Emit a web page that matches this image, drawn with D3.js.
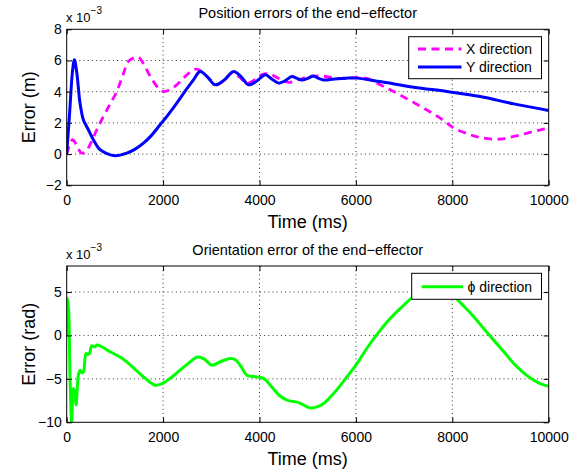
<!DOCTYPE html>
<html>
<head>
<meta charset="utf-8">
<script src="https://cdn.jsdelivr.net/npm/d3@7"></script>
<style>
  html, body { margin: 0; padding: 0; background: #fff; }
  svg { display: block; font-family: "Liberation Sans", Arial, Helvetica, sans-serif; }
</style>
</head>
<body>
<svg id="chart" width="580" height="472"></svg>
<script>
// ---- data -------------------------------------------------------------
const xTicks = [0, 2000, 4000, 6000, 8000, 10000];
const posTicks = [-2, 0, 2, 4, 6, 8];
const oriTicks = [-10, -5, 0, 5];

// position error, X direction (x 10^-3 m)
const timeX = [0, 50, 125, 200, 311, 400, 484, 600, 761, 900, 1038, 1160, 1280, 1380, 1488, 1590, 1696, 1800, 1903, 2007,
  2150, 2284, 2400, 2492, 2600, 2700, 2800, 2907, 3000, 3115, 3270, 3427, 3580, 3738, 3900, 4050, 4200, 4400, 4600, 4800,
  5000, 5300, 5600, 6000, 6230, 6500, 6714, 7000, 7345, 7600, 7822, 8030, 8250, 8445, 8650, 8860, 9050, 9275, 9500, 9690, 9850, 10000];
const errX = [0, 0.5, 0.92, 0.6, 0.06, 0.2, 0.6, 1.4, 2.41, 3.2, 4.01, 5.0, 5.94, 6.15, 6.22, 5.8, 5.19, 4.65, 4.23, 4.01,
  4.15, 4.44, 4.8, 5.08, 5.35, 5.45, 5.3, 4.97, 4.7, 4.44, 4.75, 5.19, 4.95, 4.55, 4.75, 5.1, 5.15, 4.85, 4.6, 4.75,
  4.95, 5.0, 4.85, 4.9, 4.85, 4.45, 4.12, 3.65, 3.05, 2.6, 2.15, 1.67, 1.38, 1.17, 1.03, 0.96, 0.98, 1.13, 1.3, 1.45, 1.57, 1.67];

// position error, Y direction (x 10^-3 m)
const timeY = [0, 60, 120, 160, 210, 276, 345, 400, 449, 553, 692, 850, 1003, 1246, 1420, 1592, 1760, 1938, 2110, 2284,
  2460, 2630, 2768, 2920, 3080, 3270, 3461, 3620, 3773, 3950, 4120, 4260, 4400, 4530, 4670, 4780, 4880, 5000, 5120, 5230,
  5330, 5500, 5800, 6020, 6500, 7200, 7890, 8580, 9275, 10000];
const errY = [0, 2.6, 5.3, 6.05, 5.2, 3.27, 2.2, 1.85, 1.56, 0.92, 0.28, 0.02, -0.11, 0.06, 0.32, 0.7, 1.2, 1.88, 2.55, 3.27,
  4.05, 4.76, 5.3, 4.95, 4.44, 4.75, 5.3, 4.95, 4.44, 4.7, 5.08, 4.8, 4.55, 4.7, 4.97, 4.85, 4.75, 4.85, 5.0, 4.85,
  4.75, 4.8, 4.87, 4.87, 4.65, 4.29, 4.01, 3.69, 3.22, 2.8];

// orientation error, phi direction (x 10^-3 rad)
const timePhi = [0, 15, 40, 70, 104, 138, 165, 194, 220, 242, 277, 310, 346, 401, 440, 470, 519, 580, 630, 727,
  900, 1080, 1246, 1420, 1592, 1720, 1834, 1980, 2145, 2350, 2561, 2700, 2850, 3011, 3200, 3392, 3500, 3620, 3738, 3946,
  4100, 4250, 4431, 4600, 4800, 5053, 5200, 5330, 5537, 5780, 6022, 6250, 6507, 6720, 6922, 7199, 7450, 7650, 7850, 8030,
  8250, 8445, 8650, 8860, 9075, 9275, 9480, 9690, 9850, 10000];
const errPhi = [0, 4.3, 3.0, -5, -9.95, -6.1, -6.5, -8.0, -6.0, -4.57, -4.0, -4.3, -4.2, -2.07, -2.2, -2.1, -1.2, -1.3, -1.1, -1.3,
  -1.88, -2.4, -3.04, -3.9, -4.77, -5.35, -5.73, -5.55, -4.96, -4.0, -3.04, -2.5, -2.7, -3.42, -3.0, -2.65, -2.8, -3.6, -4.57, -4.77,
  -5.0, -5.9, -7.0, -7.5, -7.7, -8.34, -8.2, -7.84, -6.69, -5.0, -3.23, -1.3, 0.61, 2.0, 3.11, 4.45, 4.95, 5.05, 4.85, 4.45,
  3.3, 2.15, 0.8, -0.54, -1.9, -3.23, -4.3, -5.15, -5.6, -5.84];

// ---- drawing ------------------------------------------------------------
const svg = d3.select("#chart");
const minus = s => String(s).replace("-", "\u2212");

function panel(opts) {
  const { top, bottom, yDomain, yTicks, title, ylabel, series, legend } = opts;
  const left = 66.7, right = 548.7;
  const x = d3.scaleLinear().domain([0, 10000]).range([left, right]);
  const y = d3.scaleLinear().domain(yDomain).range([bottom, top]);
  const g = svg.append("g");
  const clipId = "clip" + Math.round(top);

  g.append("clipPath").attr("id", clipId)
    .append("rect").attr("x", left).attr("y", top).attr("width", right - left).attr("height", bottom - top);

  // dotted grid
  const grid = g.append("g").attr("stroke", "#000").attr("stroke-width", 0.8)
    .attr("stroke-dasharray", "1,3.2").attr("fill", "none");
  grid.selectAll(".gx").data(xTicks.filter(t => t > 0 && t < 10000)).join("line")
    .attr("x1", d => x(d)).attr("x2", d => x(d)).attr("y1", top).attr("y2", bottom);
  grid.selectAll(".gy").data(yTicks.filter(t => y(t) > top + 1 && y(t) < bottom - 1)).join("line")
    .attr("x1", left).attr("x2", right).attr("y1", d => y(d)).attr("y2", d => y(d));

  // series
  const line = d3.line().x(d => x(d[0])).y(d => y(d[1])).curve(d3.curveCatmullRom.alpha(0.5));
  const lines = g.append("g").attr("clip-path", `url(#${clipId})`);
  series.forEach(s => {
    lines.append("path").datum(d3.zip(s.t, s.v))
      .attr("d", line).attr("fill", "none").attr("stroke", s.color)
      .attr("stroke-width", s.width).attr("stroke-dasharray", s.dash || null)
      .attr("stroke-linejoin", "round");
  });

  // axes: labelled bottom/left, tick-only top/right, all ticks inward
  const fs = "14px";
  const ax = g.append("g").attr("transform", `translate(0,${bottom})`)
    .call(d3.axisBottom(x).tickValues(xTicks).tickSize(-5).tickSizeOuter(0).tickPadding(10).tickFormat(d3.format("d")));
  const ay = g.append("g").attr("transform", `translate(${left},0)`)
    .call(d3.axisLeft(y).tickValues(yTicks).tickSize(-5).tickSizeOuter(0).tickPadding(5).tickFormat(minus));
  const at = g.append("g").attr("transform", `translate(0,${top})`)
    .call(d3.axisTop(x).tickValues(xTicks).tickSize(-5).tickSizeOuter(0).tickFormat(""));
  const ar = g.append("g").attr("transform", `translate(${right},0)`)
    .call(d3.axisRight(y).tickValues(yTicks).tickSize(-5).tickSizeOuter(0).tickFormat(""));
  [ax, ay, at, ar].forEach(a => {
    a.select(".domain").remove();
    a.selectAll("line").attr("stroke", "#000");
    a.selectAll("text").attr("font-size", fs).attr("fill", "#000")
      .attr("font-family", "Liberation Sans, Arial, sans-serif");
  });

  // frame
  g.append("rect").attr("x", left).attr("y", top).attr("width", right - left).attr("height", bottom - top)
    .attr("fill", "none").attr("stroke", "#000").attr("stroke-width", 1);

  // exponent label
  const ex = g.append("text").attr("x", 66).attr("y", top - 7).attr("font-size", "13px").attr("fill", "#000");
  ex.append("tspan").text("x 10");
  ex.append("tspan").attr("dy", -8).attr("font-size", "10px").text("\u22123");

  // title
  g.append("text").attr("x", (left + right) / 2).attr("y", top - 11.5).attr("text-anchor", "middle")
    .attr("font-size", "14.5px").attr("fill", "#000").text(title);

  // axis labels
  g.append("text").attr("x", (left + right) / 2).attr("y", bottom + 43).attr("text-anchor", "middle")
    .attr("font-size", "18px").attr("fill", "#000").text("Time (ms)");
  g.append("text").attr("transform", `translate(35,${(top + bottom) / 2}) rotate(-90)`).attr("text-anchor", "middle")
    .attr("font-size", "18px").attr("fill", "#000").text(ylabel);

  // legend
  const lg = g.append("g");
  lg.append("rect").attr("x", legend.x0).attr("y", legend.y0).attr("width", legend.x1 - legend.x0)
    .attr("height", legend.y1 - legend.y0).attr("fill", "#fff").attr("stroke", "#000").attr("stroke-width", 1);
  series.forEach((s, i) => {
    const yy = legend.rowY + i * 18;
    lg.append("line").attr("x1", legend.lx0).attr("x2", legend.lx1).attr("y1", yy).attr("y2", yy)
      .attr("stroke", s.color).attr("stroke-width", s.width).attr("stroke-dasharray", s.dash || null);
    lg.append("text").attr("x", legend.lx1 + 4.5).attr("y", yy).attr("dy", "0.35em")
      .attr("font-size", "14px").attr("fill", "#000").text(s.name);
  });
}

panel({
  top: 29.3, bottom: 185.3, yDomain: [-2, 8], yTicks: posTicks,
  title: "Position errors of the end\u2212effector", ylabel: "Error (m)",
  series: [
    { name: "X direction", t: timeX, v: errX, color: "#ff00ff", width: 2.8, dash: "8,5.5" },
    { name: "Y direction", t: timeY, v: errY, color: "#0000ff", width: 3 }
  ],
  legend: { x0: 408.7, x1: 541.5, y0: 36.7, y1: 78.7, rowY: 49, lx0: 418, lx1: 461.5 }
});

panel({
  top: 266, bottom: 422.3, yDomain: [-10, 8], yTicks: oriTicks,
  title: "Orientation error of the end\u2212effector", ylabel: "Error (rad)",
  series: [
    { name: "\u03d5 direction", t: timePhi, v: errPhi, color: "#00ff00", width: 3 }
  ],
  legend: { x0: 411.7, x1: 541.5, y0: 273.3, y1: 299.3, rowY: 286.8, lx0: 421.7, lx1: 463 }
});
</script>
</body>
</html>
